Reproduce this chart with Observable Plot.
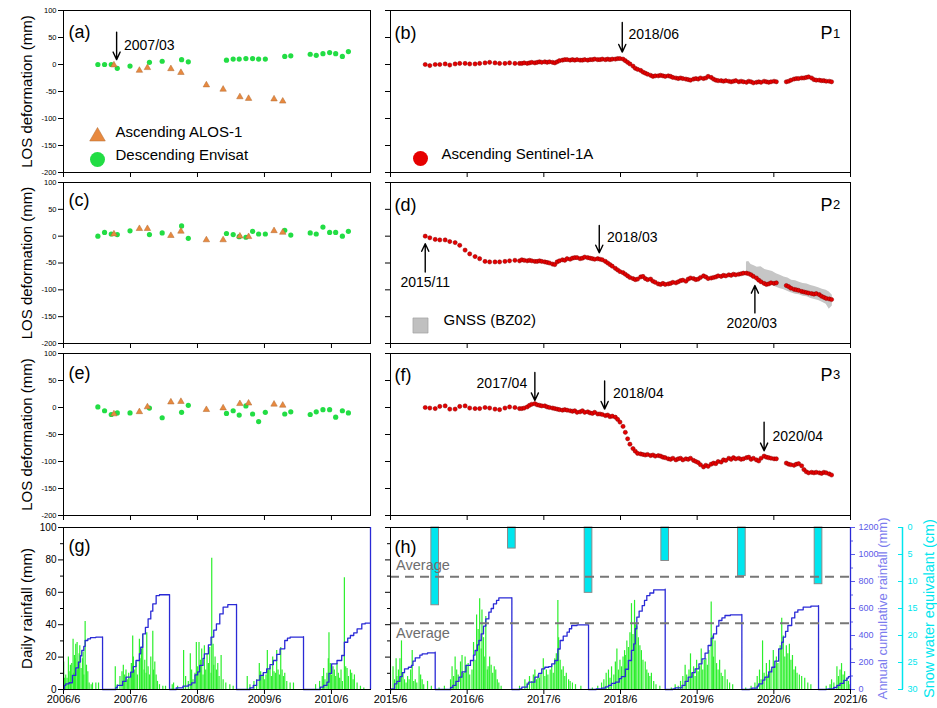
<!DOCTYPE html>
<html><head><meta charset="utf-8">
<script src="https://cdn.jsdelivr.net/npm/d3@7"></script>
<script src="https://cdn.jsdelivr.net/npm/@observablehq/plot@0.6"></script>
<style>
body{margin:0;background:#fff;}
#fig{position:relative;width:937px;height:708px;overflow:hidden;background:#fff;}
#fig svg{position:absolute;overflow:visible;max-width:none;background:transparent;}
</style></head><body><div id="fig"></div>
<script>
// ---------------- axes / ticks ----------------
const leftDomain = [2006.417, 2011.0];
const rightDomain = [2015.417, 2021.417];
const leftTicks = [2006.417, 2007.417, 2008.417, 2009.417, 2010.417];
const leftTickLabels = ["2006/6", "2007/6", "2008/6", "2009/6", "2010/6"];
const rightTicks = [2015.417, 2016.417, 2017.417, 2018.417, 2019.417, 2020.417, 2021.417];
const rightTickLabels = ["2015/6", "2016/6", "2017/6", "2018/6", "2019/6", "2020/6", "2021/6"];
const losTicks = [-200, -150, -100, -50, 0, 50, 100];
const rainTicks = [0, 20, 40, 60, 80, 100];
const rainMinorTicks = [10, 30, 50, 70, 90];
const cumTicksMm = [0, 200, 400, 600, 800, 1000, 1200];
const cumMinorTicksMm = [100, 300, 500, 700, 900, 1100];
const sweTicksCm = [0, 5, 10, 15, 20, 25, 30];

// ---------------- Envisat (descending) & ALOS-1 (ascending) ----------------
const envisatDates = [2006.93,2007.03,2007.13,2007.22,2007.41,2007.70,2007.89,2008.18,2008.28,2008.85,2008.95,2009.04,2009.14,2009.24,2009.33,2009.43,2009.72,2009.81,2010.10,2010.19,2010.29,2010.39,2010.48,2010.58,2010.67];
const envisatP1 = [0,0,0,-7,-3,4,6,9,5,8,10,10,11,11,10,10,15,16,19,17,20,22,20,15,24];
const envisatP2 = [0,7,4,3,10,3,6,19,-4,5,3,-1,-2,9,4,4,11,2,6,4,17,7,7,0,9];
const envisatP3 = [1,-6,-13,-10,-10,-1,-19,-9,4,-11,-6,-14,3,-12,-26,-9,-12,-8,-13,-8,-4,-4,-18,-6,-10];
const alosDates = [2007.17,2007.55,2007.67,2008.02,2008.17,2008.55,2008.80,2009.05,2009.18,2009.56,2009.69];
const alosP1 = [-1,-11,-6,-8,-15,-38,-46,-60,-63,-64,-68];
const alosP2 = [4,14,14,1,9,-7,-7,0,-1,10,7];
const alosP3 = [-12,-8,1,10,11,-4,-1,7,8,6,4];

// ---------------- Sentinel-1A (ascending) ----------------
const s1Dates = [
 2015.87,2015.93,2016.00,2016.06,2016.13,2016.19,2016.26,2016.32,2016.39,2016.45,2016.52,2016.58,2016.65,2016.71,2016.78,2016.84,2016.91,2016.97,2017.04,2017.10,
 2017.13,2017.16,2017.20,2017.23,2017.26,2017.30,2017.33,2017.36,2017.39,2017.43,2017.46,2017.49,2017.53,2017.56,2017.59,2017.62,2017.66,2017.69,2017.72,2017.76,2017.79,2017.82,2017.85,2017.89,2017.92,2017.95,2017.99,
 2018.02,2018.05,2018.08,2018.12,2018.15,2018.18,2018.22,2018.25,2018.28,2018.31,2018.35,2018.38,2018.41,2018.45,2018.48,2018.51,2018.54,2018.58,2018.61,2018.64,2018.68,2018.71,2018.74,2018.77,2018.81,2018.84,2018.87,2018.91,2018.94,2018.97,
 2019.00,2019.04,2019.07,2019.10,2019.14,2019.17,2019.20,2019.23,2019.27,2019.30,2019.33,2019.37,2019.40,2019.43,2019.46,2019.50,2019.53,2019.56,2019.60,2019.63,2019.66,2019.69,2019.73,2019.76,2019.79,2019.83,2019.86,2019.89,2019.92,2019.96,2019.99,
 2020.02,2020.06,2020.09,2020.12,2020.15,2020.19,2020.22,2020.25,2020.29,2020.32,2020.35,2020.38,2020.42,2020.45,
 2020.58,2020.61,2020.64,2020.68,2020.71,2020.74,2020.78,2020.81,2020.84,2020.87,2020.91,2020.94,2020.97,2021.01,2021.04,2021.07,2021.10,2021.14,2021.17];
const s1P1 = [
 0,-2,0,0,1,-1,1,2,2,1,1,2,3,4,3,2,2,3,2,2,
 2,3,2,3,4,3,4,5,4,5,4,5,4,3,5,7,8,9,9,8,9,8,9,8,8,9,8,
 9,9,10,9,9,10,9,10,9,10,10,11,11,10,7,4,1,-3,-7,-9,-11,-14,-16,-18,-20,-22,-21,-21,-20,-21,
 -22,-21,-22,-24,-25,-26,-25,-26,-27,-28,-29,-27,-26,-27,-25,-26,-25,-22,-24,-27,-29,-30,-30,-31,-30,-31,-32,-31,-30,-32,-31,
 -32,-33,-31,-32,-34,-33,-32,-33,-31,-32,-33,-32,-31,-32,
 -32,-31,-29,-27,-26,-26,-25,-25,-24,-23,-25,-28,-29,-29,-30,-30,-31,-31,-32];
const s1P2 = [
 0,-3,-6,-7,-7,-10,-12,-17,-26,-33,-38,-42,-47,-48,-48,-48,-47,-46,-45,-46,
 -44,-45,-46,-45,-46,-47,-47,-46,-47,-48,-49,-50,-52,-53,-48,-46,-44,-45,-42,-43,-41,-40,-40,-42,-41,-39,-40,
 -41,-42,-43,-42,-43,-44,-47,-50,-53,-56,-60,-63,-66,-68,-71,-74,-77,-79,-81,-80,-76,-75,-79,-81,-80,-84,-86,-89,-90,-88,
 -90,-89,-88,-86,-87,-85,-83,-82,-84,-80,-78,-79,-81,-80,-77,-74,-76,-79,-78,-77,-76,-74,-75,-73,-74,-72,-73,-71,-72,-71,-70,
 -69,-69,-70,-72,-75,-78,-82,-85,-88,-90,-89,-87,-88,-87,
 -92,-94,-97,-99,-100,-101,-103,-104,-105,-106,-107,-108,-107,-109,-112,-114,-116,-117,-118];
const s1P3 = [
 0,-1,-2,2,3,-3,-3,2,3,-1,-2,-2,0,-1,-3,-4,-1,1,0,-2,
 -2,-1,1,4,6,7,5,4,3,3,1,0,-1,-2,-3,-4,-5,-4,-5,-6,-7,-6,-9,-8,-6,-9,-8,
 -10,-11,-9,-12,-12,-13,-15,-14,-17,-16,-18,-22,-27,-35,-46,-58,-68,-76,-81,-85,-86,-87,-88,-87,-89,-88,-90,-89,-90,-92,
 -93,-95,-96,-94,-97,-95,-94,-97,-95,-96,-94,-98,-100,-102,-106,-110,-107,-109,-105,-103,-104,-100,-101,-97,-98,-94,-96,-93,-95,-94,-96,
 -95,-93,-92,-96,-94,-97,-99,-94,-90,-92,-93,-94,-95,-95,
 -103,-105,-106,-107,-105,-104,-108,-115,-119,-121,-120,-121,-120,-121,-122,-120,-121,-123,-125];

// ---------------- GNSS (BZ02) spread ----------------
const gnssDates = [2020.06,2020.09,2020.12,2020.16,2020.20,2020.25,2020.30,2020.35,2020.40,2020.45,2020.50,2020.55,2020.60,2020.65,2020.70,2020.75,2020.80,2020.85,2020.90,2020.95,2021.00,2021.05,2021.10,2021.14,2021.18];
const gnssUpper = [-48,-47,-53,-55,-58,-57,-62,-64,-66,-70,-73,-76,-78,-82,-83,-86,-88,-89,-92,-94,-96,-99,-101,-104,-110];
const gnssLower = [-66,-72,-76,-78,-82,-84,-88,-90,-92,-95,-98,-100,-103,-106,-108,-109,-112,-113,-116,-118,-120,-123,-127,-136,-130];

// ---------------- daily rainfall [fraction of year, mm] ----------------
const rain2006 = [[.42,17],[.43,7],[.45,9],[.47,7],[.49,20],[.50,11],[.52,15],[.54,16],[.56,31],[.57,10],[.58,21],[.59,19],[.60,28],[.62,29],[.63,12],[.64,17],[.65,22],[.66,27],[.68,13],[.70,19],[.71,23],[.72,9],[.74,42],[.76,15],[.78,11],[.80,4],[.83,3],[.85,4],[.90,4],[.94,4]];
const rain2007 = [[.19,14],[.22,3],[.26,8],[.29,11],[.31,15],[.33,9],[.35,12],[.37,6],[.39,10],[.41,7],[.43,16],[.45,33],[.46,20],[.48,12],[.50,17],[.52,9],[.55,31],[.56,19],[.58,25],[.60,34],[.62,12],[.63,18],[.65,10],[.66,35],[.68,14],[.70,9],[.72,20],[.75,36],[.76,12],[.78,17],[.80,9],[.82,5],[.85,3],[.90,2],[.94,2]];
const rain2008 = [[.04,3],[.06,4],[.12,2],[.21,24],[.24,8],[.28,5],[.31,22],[.33,12],[.35,6],[.38,10],[.40,29],[.42,14],[.44,29],[.46,18],[.48,25],[.50,9],[.52,27],[.54,12],[.56,22],[.58,16],[.60,26],[.62,10],[.63,81],[.65,28],[.66,15],[.68,20],[.70,12],[.72,16],[.74,8],[.77,21],[.80,6],[.84,4],[.90,3],[.95,2]];
const rain2009 = [[.16,8],[.20,3],[.26,5],[.30,6],[.34,16],[.36,11],[.38,8],[.40,10],[.42,6],[.44,9],[.46,24],[.48,12],[.50,14],[.52,8],[.54,20],[.56,11],[.58,10],[.60,24],[.62,12],[.64,9],[.66,26],[.68,12],[.70,8],[.72,10],[.75,5],[.80,4],[.85,4]];
const rain2010 = [[.18,3],[.24,5],[.28,8],[.30,13],[.32,6],[.35,10],[.37,19],[.38,35],[.40,16],[.42,9],[.44,14],[.46,12],[.48,8],[.50,16],[.52,10],[.54,7],[.56,12],[.58,5],[.61,69],[.63,14],[.65,13],[.67,8],[.70,12],[.72,10],[.74,6],[.76,9],[.80,4],[.85,2],[.90,1]];
const rain2015 = [[.45,14],[.47,6],[.49,19],[.50,8],[.52,12],[.54,19],[.56,30],[.58,10],[.60,6],[.62,4],[.64,8],[.66,6],[.68,12],[.70,24],[.72,5],[.74,6],[.76,4],[.79,14],[.81,9],[.83,6],[.85,3],[.90,5],[.95,2]];
const rain2016 = [[.05,1],[.12,2],[.20,6],[.22,14],[.24,8],[.26,20],[.28,12],[.30,9],[.33,17],[.35,21],[.37,10],[.39,20],[.41,15],[.43,16],[.45,9],[.48,12],[.50,29],[.52,18],[.54,46],[.56,37],[.58,56],[.60,25],[.61,49],[.63,32],[.64,20],[.66,45],[.68,12],[.69,14],[.71,20],[.73,15],[.75,10],[.77,14],[.79,12],[.81,6],[.83,4],[.86,2]];
const rain2017 = [[.10,2],[.17,6],[.20,4],[.23,8],[.26,5],[.28,9],[.30,12],[.32,6],[.34,9],[.36,7],[.38,10],[.41,19],[.43,8],[.45,12],[.47,9],[.50,12],[.52,15],[.54,10],[.56,19],[.58,22],[.60,55],[.61,32],[.63,18],[.65,12],[.67,14],[.69,8],[.71,10],[.74,6],[.76,5],[.79,4],[.83,3],[.90,2]];
const rain2018 = [[.05,1],[.12,2],[.17,4],[.20,6],[.23,10],[.26,12],[.28,7],[.30,14],[.33,9],[.35,17],[.37,25],[.39,12],[.41,18],[.43,14],[.45,20],[.47,24],[.48,21],[.50,30],[.52,26],[.54,35],[.56,53],[.58,34],[.60,55],[.61,40],[.63,39],[.65,32],[.67,27],[.69,24],[.71,18],[.74,17],[.76,12],[.78,10],[.80,8],[.82,10],[.85,5],[.88,3],[.93,2]];
const rain2019 = [[.08,1],[.13,3],[.17,2],[.20,5],[.23,8],[.26,15],[.28,9],[.31,12],[.33,22],[.35,10],[.37,14],[.39,8],[.41,18],[.43,11],[.45,14],[.47,25],[.49,12],[.51,18],[.53,19],[.55,15],[.57,24],[.60,54],[.62,33],[.63,20],[.65,30],[.67,16],[.69,12],[.71,18],[.73,10],[.75,8],[.78,12],[.81,6],[.84,4],[.88,3]];
const rain2020 = [[.05,1],[.12,2],[.17,4],[.20,8],[.23,12],[.25,6],[.27,30],[.29,10],[.32,16],[.34,9],[.36,18],[.38,12],[.41,24],[.43,14],[.45,20],[.47,16],[.50,27],[.52,44],[.54,33],[.56,20],[.58,27],[.60,22],[.62,28],[.64,18],[.66,21],[.68,12],[.70,14],[.72,10],[.75,9],[.78,8],[.82,7],[.86,4],[.90,3]];
const rain2021 = [[.10,2],[.15,3],[.17,6],[.20,4],[.24,14],[.26,8],[.28,12],[.30,16],[.32,9],[.34,11],[.37,7],[.39,5],[.41,3]];

// ---------------- annual cumulative rainfall [date, mm] ----------------
const cumLeft = [
 [2006.417,0],[2006.43,30],[2006.45,42],[2006.50,50],[2006.55,104],[2006.60,160],[2006.64,203],[2006.67,250],[2006.69,289],[2006.72,320],[2006.74,363],[2006.78,375],[2006.82,385],[2006.90,388],[2007.0,390],
 [2007.0,0],[2007.15,0],[2007.20,15],[2007.22,30],[2007.30,60],[2007.35,91],[2007.42,128],[2007.46,170],[2007.50,215],[2007.55,265],[2007.57,313],[2007.60,412],[2007.64,460],[2007.68,523],[2007.72,580],[2007.75,635],[2007.80,696],[2007.85,702],[2008.0,703],
 [2008.0,0],[2008.03,0],[2008.10,12],[2008.20,25],[2008.28,35],[2008.33,49],[2008.38,108],[2008.42,130],[2008.45,178],[2008.50,230],[2008.52,264],[2008.58,330],[2008.62,388],[2008.66,440],[2008.70,486],[2008.75,560],[2008.80,610],[2008.87,628],[2009.0,630],
 [2009.0,0],[2009.15,0],[2009.20,12],[2009.25,30],[2009.30,70],[2009.35,104],[2009.40,125],[2009.45,153],[2009.50,185],[2009.55,215],[2009.60,260],[2009.65,301],[2009.72,363],[2009.76,380],[2009.80,388],[2010.0,392],
 [2010.0,0],[2010.15,0],[2010.25,17],[2010.30,30],[2010.35,54],[2010.38,120],[2010.42,190],[2010.50,215],[2010.57,252],[2010.61,350],[2010.66,380],[2010.70,400],[2010.75,420],[2010.80,449],[2010.87,486],[2010.92,492],[2011.0,492]];
const cumRight = [
 [2015.417,0],[2015.43,5],[2015.47,42],[2015.50,60],[2015.54,96],[2015.57,125],[2015.60,153],[2015.65,165],[2015.69,178],[2015.71,210],[2015.74,235],[2015.80,255],[2015.83,264],[2015.90,272],[2016.0,277],
 [2016.0,0],[2016.14,0],[2016.20,15],[2016.23,30],[2016.27,60],[2016.31,91],[2016.35,130],[2016.40,178],[2016.46,215],[2016.50,255],[2016.52,289],[2016.55,330],[2016.57,363],[2016.60,412],[2016.63,470],[2016.66,523],[2016.70,573],[2016.73,600],[2016.76,635],[2016.80,660],[2016.83,679],[2017.0,680],
 [2017.0,0],[2017.10,5],[2017.13,17],[2017.20,40],[2017.22,54],[2017.30,91],[2017.35,120],[2017.39,153],[2017.43,165],[2017.48,170],[2017.52,190],[2017.56,215],[2017.60,300],[2017.63,363],[2017.67,395],[2017.72,425],[2017.75,450],[2017.78,474],[2017.85,478],[2018.0,479],
 [2018.0,0],[2018.10,5],[2018.17,10],[2018.22,20],[2018.26,30],[2018.30,45],[2018.35,54],[2018.40,80],[2018.43,96],[2018.48,150],[2018.52,215],[2018.56,290],[2018.59,338],[2018.61,450],[2018.63,536],[2018.66,580],[2018.70,622],[2018.73,660],[2018.76,696],[2018.80,715],[2018.85,738],[2019.0,743],
 [2019.0,0],[2019.10,5],[2019.13,12],[2019.22,30],[2019.26,60],[2019.30,91],[2019.35,125],[2019.39,153],[2019.44,190],[2019.48,227],[2019.52,270],[2019.56,326],[2019.60,380],[2019.63,412],[2019.67,470],[2019.70,511],[2019.74,530],[2019.78,548],[2019.85,553],[2020.0,556],
 [2020.0,0],[2020.10,3],[2020.13,10],[2020.20,25],[2020.22,42],[2020.27,70],[2020.30,91],[2020.35,130],[2020.39,165],[2020.43,210],[2020.48,301],[2020.52,350],[2020.54,388],[2020.57,430],[2020.60,474],[2020.65,530],[2020.69,573],[2020.73,590],[2020.80,610],[2020.90,618],[2021.0,622],
 [2021.0,0],[2021.10,2],[2021.13,5],[2021.20,15],[2021.24,30],[2021.28,45],[2021.33,67],[2021.37,85],[2021.39,96],[2021.417,104]];

// ---------------- snow water equivalent (cm) ----------------
const snowDates = [2016.0, 2017.0, 2018.0, 2019.0, 2020.0, 2021.0];
const snowSWE = [14.4, 3.9, 12.1, 6.2, 9.0, 10.5];
const avgSnowSWE = 9.1;     // cm
const avgRainfall = 490;    // mm

// ---------------- annotations ----------------
const arrowsA = [{x: 2007.21, from: 60, to: 9}];
const notesA = [{x: 2007.32, y: 36, text: "2007/03", anchor: "start"}];
const arrowsB = [{x: 2018.44, from: 78, to: 23}];
const notesB = [{x: 2018.52, y: 55, text: "2018/06", anchor: "start"}];
const arrowsD = [{x: 2015.87, from: -67, to: -14}, {x: 2018.14, from: 20, to: -31}, {x: 2020.17, from: -143, to: -92}];
const notesD = [{x: 2015.87, y: -86, text: "2015/11", anchor: "middle"}, {x: 2018.24, y: -2, text: "2018/03", anchor: "start"}, {x: 2020.13, y: -163, text: "2020/03", anchor: "middle"}];
const arrowsF = [{x: 2017.30, from: 65, to: 13}, {x: 2018.21, from: 49, to: -3}, {x: 2020.29, from: -27, to: -80}];
const notesF = [{x: 2017.20, y: 44, text: "2017/04", anchor: "end"}, {x: 2018.32, y: 25, text: "2018/04", anchor: "start"}, {x: 2020.40, y: -53, text: "2020/04", anchor: "start"}];
const averageNotes = [{x: 2015.49, y: 76.5}, {x: 2015.49, y: 34.4}];

// ---------------- styling ----------------
const FONT = '"Liberation Sans", Arial, Helvetica, sans-serif';
const GREEN_PT = "#22dd44", ORANGE = "#e8893f", RED = "#e60000";
const RAIN_GREEN = "#2cef2c", BLUE = "#2a2ad6", BLUE_LABEL = "#5a5ae8", BLUE_TITLE = "#7c7cee", CYAN = "#00e6ee";
const UNIT = 100 / 1200;          // cumulative mm -> left (daily) scale
const SWE_UNIT = 100 / 30;        // cm -> left (daily) scale, reversed from top

// ---------------- helpers ----------------
const fig = document.getElementById("fig");
const zipRows = (dates, vals) => dates.map((d, i) => ({date: d, v: vals[i]}));
const yearRows = (year, arr) => arr.map(([f, mm]) => ({date: year + f, mm}));
const rainLeft = [].concat(yearRows(2006, rain2006), yearRows(2007, rain2007), yearRows(2008, rain2008), yearRows(2009, rain2009), yearRows(2010, rain2010));
const rainRight = [].concat(yearRows(2015, rain2015), yearRows(2016, rain2016), yearRows(2017, rain2017), yearRows(2018, rain2018), yearRows(2019, rain2019), yearRows(2020, rain2020), yearRows(2021, rain2021));
const snowRows = snowDates.map((d, i) => ({date: d, swe: snowSWE[i]}));

function panel({fx, fy, fw, fh, mL, mR, mT, mB, xDomain, yDomain, marks}) {
  const svg = Plot.plot({
    width: fw + mL + mR, height: fh + mT + mB,
    marginLeft: mL, marginRight: mR, marginTop: mT, marginBottom: mB,
    x: {domain: xDomain}, y: {domain: yDomain},
    style: {background: "transparent", fontFamily: FONT, overflow: "visible", color: "black"},
    marks
  });
  svg.style.left = (fx - mL) + "px";
  svg.style.top = (fy - mT) + "px";
  fig.appendChild(svg);
}

const COL = {L: {fx: 63, fw: 307, mL: 63, mR: 10, xDomain: leftDomain, ticks: leftTicks, labels: leftTickLabels},
             R: {fx: 390, fw: 460, mL: 10, mR: 10, xDomain: rightDomain, ticks: rightTicks, labels: rightTickLabels}};
const ROWS = [{fy: 10, fh: 162}, {fy: 182, fh: 161}, {fy: 353, fh: 162}, {fy: 527, fh: 162}];

function xAxis(col, withLabels) {
  return Plot.axisX({ticks: col.ticks, tickSize: 5, tickPadding: 1, fontSize: 11, label: null,
    tickFormat: withLabels ? (d => col.labels[col.ticks.indexOf(d)]) : (() => "")});
}
function panelLabel(t, dx, dy) {
  return Plot.text([t], {frameAnchor: "top-left", dx, dy, textAnchor: "start", fontSize: 18});
}
function yTitle(t, dx, fill = "black", anchor = "left", fontSize = 15) {
  return Plot.text([t], {frameAnchor: anchor, rotate: -90, dx, textAnchor: "middle", lineAnchor: "middle", fontSize, fill});
}
function pLabel(n, dy) {
  return [
    Plot.text(["P"], {frameAnchor: "top-right", dx: -30, dy, textAnchor: "start", fontSize: 18}),
    Plot.text([n], {frameAnchor: "top-right", dx: -17.5, dy: dy + 2, textAnchor: "start", fontSize: 13})
  ];
}
function annot(arrows, notes) {
  return [
    Plot.arrow(arrows, {x1: "x", x2: "x", y1: "from", y2: "to", stroke: "black", strokeWidth: 1.4, headLength: 9, headAngle: 50}),
    ...["start", "middle", "end"].map(a =>
      Plot.text(notes.filter(n => n.anchor === a), {x: "x", y: "y", text: "text", textAnchor: a, fontSize: 14}))
  ];
}

// ---------------- left LOS panels ----------------
function leftLos(row, envVals, alosVals, label, labelDy, extra) {
  const col = COL.L;
  panel({...col, ...row, mT: 10, mB: 10, yDomain: [-200, 100], marks: [
    Plot.axisY({ticks: losTicks, tickSize: 5, tickPadding: 2, fontSize: 7.5, label: null, tickFormat: d => String(d)}),
    xAxis(col, false),
    yTitle("LOS deformation (mm)", -36),
    Plot.dot(zipRows(envisatDates, envVals), {x: "date", y: "v", r: 2.6, fill: GREEN_PT}),
    Plot.dot(zipRows(alosDates, alosVals), {x: "date", y: "v", symbol: "triangle", r: 2.4, fill: ORANGE, stroke: "#b06a33", strokeWidth: 0.5}),
    panelLabel(label, 5, labelDy),
    ...extra,
    Plot.frame({stroke: "black"})
  ]});
}
leftLos(ROWS[0], envisatP1, alosP1, "(a)", 15, [
  ...annot(arrowsA, notesA),
  Plot.dot([0], {frameAnchor: "bottom-left", dx: 34, dy: -36, symbol: "triangle", r: 5.8, fill: ORANGE, stroke: "#b06a33", strokeWidth: 0.5}),
  Plot.dot([0], {frameAnchor: "bottom-left", dx: 34, dy: -13, r: 7.5, fill: GREEN_PT}),
  Plot.text(["Ascending ALOS-1"], {frameAnchor: "bottom-left", dx: 52, dy: -36, textAnchor: "start", fontSize: 15}),
  Plot.text(["Descending Envisat"], {frameAnchor: "bottom-left", dx: 52, dy: -13, textAnchor: "start", fontSize: 15})
]);
leftLos(ROWS[1], envisatP2, alosP2, "(c)", 10.5, []);
leftLos(ROWS[2], envisatP3, alosP3, "(e)", 12.5, []);

// ---------------- right LOS panels ----------------
function rightLos(row, vals, label, labelDy, pn, pDy, extraBelow, extraAbove) {
  const col = COL.R;
  panel({...col, ...row, mT: 10, mB: 10, yDomain: [-200, 100], marks: [
    Plot.axisY({ticks: losTicks, tickSize: 5, label: null, tickFormat: () => ""}),
    xAxis(col, false),
    ...extraBelow,
    Plot.dot(zipRows(s1Dates, vals), {x: "date", y: "v", r: 2.1, fill: RED, stroke: "#8a0000", strokeWidth: 0.5}),
    panelLabel(label, 4, labelDy),
    ...pLabel(pn, pDy),
    ...extraAbove,
    Plot.frame({stroke: "black"})
  ]});
}
rightLos(ROWS[0], s1P1, "(b)", 16, "1", 16, [], [
  ...annot(arrowsB, notesB),
  Plot.dot([0], {frameAnchor: "bottom-left", dx: 30, dy: -14, r: 7.5, fill: RED}),
  Plot.text(["Ascending Sentinel-1A"], {frameAnchor: "bottom-left", dx: 51, dy: -14, textAnchor: "start", fontSize: 15})
]);
rightLos(ROWS[1], s1P2, "(d)", 15.5, "2", 15.5, [
  Plot.areaY(gnssDates.map((d, i) => ({date: d, hi: gnssUpper[i], lo: gnssLower[i]})), {x: "date", y1: "lo", y2: "hi", fill: "#c6c6c6"})
], [
  ...annot(arrowsD, notesD),
  Plot.dot([0], {frameAnchor: "bottom-left", dx: 30, dy: -18, symbol: "square", r: 8.5, fill: "#c0c0c0", stroke: "#9a9a9a", strokeWidth: 0.6}),
  Plot.text(["GNSS (BZ02)"], {frameAnchor: "bottom-left", dx: 53, dy: -19, textAnchor: "start", fontSize: 15})
]);
rightLos(ROWS[2], s1P3, "(f)", 14.5, "3", 14.5, [], [...annot(arrowsF, notesF)]);

// ---------------- rainfall panels ----------------
panel({...COL.L, ...ROWS[3], mT: 10, mB: 19, yDomain: [0, 100], marks: [
  Plot.axisY({ticks: rainTicks, tickSize: 5, tickPadding: 2, fontSize: 10, label: null}),
  Plot.axisY({ticks: rainMinorTicks, tickSize: 3, label: null, tickFormat: () => ""}),
  xAxis(COL.L, true),
  yTitle("Daily rainfall (mm)", -36),
  Plot.ruleX(rainLeft, {x: "date", y1: 0, y2: "mm", stroke: RAIN_GREEN, strokeWidth: 1.2}),
  Plot.line(cumLeft, {x: d => d[0], y: d => d[1] * UNIT, stroke: BLUE, strokeWidth: 1.3, curve: "step-after"}),
  panelLabel("(g)", 5, 12),
  Plot.frame({stroke: "black"}),
  Plot.ruleX([leftDomain[1]], {stroke: BLUE, strokeWidth: 1.3})
]});

panel({...COL.R, ...ROWS[3], mR: 87, mT: 10, mB: 19, yDomain: [0, 100], marks: [
  Plot.axisY({ticks: rainTicks, tickSize: 5, label: null, tickFormat: () => ""}),
  Plot.axisY({ticks: rainMinorTicks, tickSize: 3, label: null, tickFormat: () => ""}),
  xAxis(COL.R, true),
  Plot.ruleX(rainRight, {x: "date", y1: 0, y2: "mm", stroke: RAIN_GREEN, strokeWidth: 1.2}),
  Plot.line(cumRight, {x: d => d[0], y: d => d[1] * UNIT, stroke: BLUE, strokeWidth: 1.3, curve: "step-after"}),
  Plot.rect(snowRows, {x1: d => d.date - 0.05, x2: d => d.date + 0.05, y1: 100, y2: d => 100 - d.swe * SWE_UNIT, fill: CYAN, stroke: "#8a8a8a", strokeWidth: 1}),
  Plot.ruleY([100 - avgSnowSWE * SWE_UNIT, avgRainfall * UNIT], {stroke: "#777", strokeWidth: 2, strokeDasharray: "9,6"}),
  Plot.text(averageNotes, {x: "x", y: "y", text: () => "Average", textAnchor: "start", fontSize: 14.5, fill: "#6e6e6e"}),
  panelLabel("(h)", 4, 13),
  Plot.frame({stroke: "black"}),
  Plot.ruleX([rightDomain[1]], {stroke: BLUE, strokeWidth: 1.3}),
  // blue (annual cumulative rainfall) axis
  Plot.axisY({anchor: "right", ticks: cumTicksMm.map(v => v * UNIT), tickSize: 4, tickPadding: 4, fontSize: 9, label: null,
    tickFormat: d => String(Math.round(d / UNIT)), color: BLUE_LABEL}),
  Plot.axisY({anchor: "right", ticks: cumMinorTicksMm.map(v => v * UNIT), tickSize: 2, label: null, tickFormat: () => "", color: BLUE_LABEL}),
  yTitle("Annual cumulative rainfall (mm)", 32, BLUE_TITLE, "right", 13),
  // cyan (snow water equivalent) axis
  Plot.ruleX([rightDomain[1]], {dx: 52, stroke: CYAN, strokeWidth: 1.5}),
  Plot.axisY({anchor: "right", ticks: sweTicksCm.map(c => 100 - c * SWE_UNIT), dx: 47, tickSize: 5, tickPadding: 5, fontSize: 9, label: null,
    tickFormat: d => String(Math.round((100 - d) / SWE_UNIT)), color: CYAN}),
  yTitle("Snow water equivalant (cm)", 79, CYAN, "right", 14.5)
]});
</script></body></html>
